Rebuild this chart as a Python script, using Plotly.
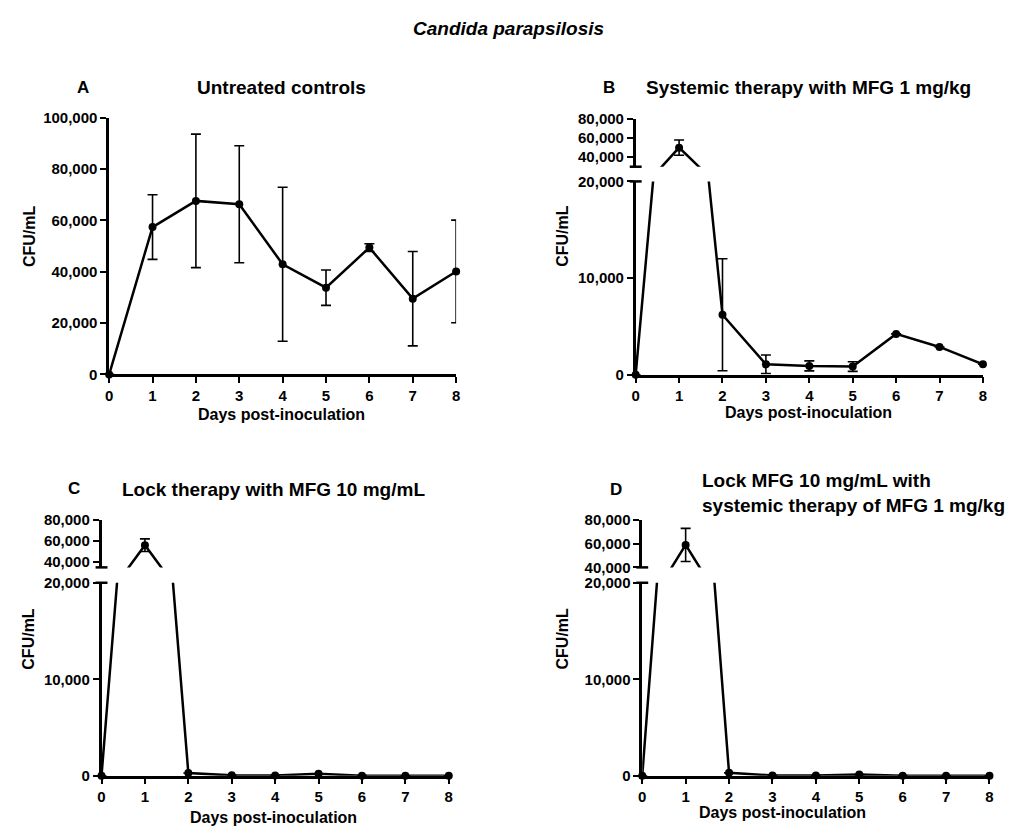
import plotly.graph_objects as go

W, H = 1016, 834

# ---------------- data ----------------
days = [0, 1, 2, 3, 4, 5, 6, 7, 8]

A_mean = [0, 57400, 67600, 66300, 42900, 33800, 49400, 29500, 40100]
A_sd = [0, 12600, 26000, 22800, 30000, 6900, 1500, 18400, 20000]

B_mean = [0, 50000, 6200, 1080, 910, 840, 4220, 2870, 1080]
B_sd = [0, 8000, 5800, 950, 520, 500, 0, 0, 0]

C_mean = [0, 56000, 280, 40, 30, 200, 10, 0, 0]
C_sd = [0, 6000, 0, 0, 0, 0, 0, 0, 0]

D_mean = [0, 59000, 300, 30, 20, 120, 10, 0, 0]
D_sd = [0, 14000, 0, 0, 0, 0, 0, 0, 0]

main_title = "Candida parapsilosis"
panel_letters = ["A", "B", "C", "D"]
panel_titles = [
    "Untreated controls",
    "Systemic therapy with MFG 1 mg/kg",
    "Lock therapy with MFG 10 mg/mL",
    "Lock MFG 10 mg/mL with<br>systemic therapy of MFG 1 mg/kg",
]
x_title = "Days post-inoculation"
y_title = "CFU/mL"

# ---------------- layout helpers ----------------
def fx(p):
    return p / W

def fy(p):
    return 1 - p / H

FONT = "Liberation Sans, Arial, sans-serif"
tickfont = dict(family=FONT, size=15, color="black", weight="bold")

axis_style = dict(
    showline=True, linecolor="black", linewidth=2.5,
    ticks="outside", ticklen=6, tickwidth=2, tickcolor="black",
    showgrid=False, zeroline=False, tickfont=tickfont,
)

# panel geometry in pixels
panels = [
    dict(mean=A_mean, sd=A_sd, xpx=(106, 455.7), xid="x", low=("y", (373, 111), [0, 100000],
         [0, 20000, 40000, 60000, 80000, 100000]), up=None),
    dict(mean=B_mean, sd=B_sd, xpx=(636.7, 986.7), xid="x2",
         low=("y2", (373.3, 176), [0, 20000], [0, 10000, 20000]),
         up=("y3", (161, 112.3), [30000, 80000], [40000, 60000, 80000])),
    dict(mean=C_mean, sd=C_sd, xpx=(98.3, 448.3), xid="x3",
         low=("y4", (782.7, 585.7), [0, 20000], [0, 10000, 20000]),
         up=("y5", (570, 521.5), [35000, 80000], [40000, 60000, 80000])),
    dict(mean=D_mean, sd=D_sd, xpx=(643.3, 993.3), xid="x4",
         low=("y6", (782.7, 585.7), [0, 20000], [0, 10000, 20000]),
         up=("y7", (570, 521.7), [40000, 80000], [40000, 60000, 80000])),
]

fig = go.Figure()
layout = {}
shapes = []

def axname(aid):
    return aid[0] + "axis" + aid[1:]

for p in panels:
    xid = p["xid"]
    lowid, lowpx, lowrange, lowticks = p["low"]
    layout[axname(xid)] = dict(
        domain=[fx(p["xpx"][0]), fx(p["xpx"][1])], range=[0, 8],
        tickvals=days, anchor=lowid, **axis_style)
    segs = [p["low"]] + ([p["up"]] if p["up"] else [])
    for sid, spx, srange, sticks in segs:
        layout[axname(sid)] = dict(
            domain=[fy(spx[0]), fy(spx[1])], range=srange, tickvals=sticks,
            tickformat=",d", anchor=xid, **axis_style)
        # connecting line, clipped to each segment
        fig.add_trace(go.Scatter(
            x=days, y=p["mean"], mode="lines", xaxis=xid, yaxis=sid,
            line=dict(color="black", width=2.5), showlegend=False, hoverinfo="skip"))
        # markers + error bars for points inside this segment
        xs, ys, es = [], [], []
        for d, m, s in zip(days, p["mean"], p["sd"]):
            if srange[0] <= m <= srange[1]:
                xs.append(d); ys.append(m); es.append(s)
        fig.add_trace(go.Scatter(
            x=xs, y=ys, mode="markers", xaxis=xid, yaxis=sid, cliponaxis=False,
            marker=dict(color="black", size=8),
            error_y=dict(type="data", array=es, color="black", thickness=1.6, width=5),
            showlegend=False))
    if p["up"]:
        ax = fx(p["xpx"][0])
        upbot = fy(p["up"][1][0])
        lowtop = fy(p["low"][1][1])
        d6 = 6 / W
        shapes.append(dict(type="line", xref="paper", yref="paper",
                           x0=ax - d6, x1=ax + d6, y0=upbot, y1=upbot,
                           line=dict(color="black", width=2.5)))
        shapes.append(dict(type="line", xref="paper", yref="paper",
                           x0=ax - d6, x1=ax + d6, y0=lowtop, y1=lowtop,
                           line=dict(color="black", width=2.5)))

# ---------------- annotations ----------------
ann = []
def text(x, y, s, size=16, angle=0, italic=False, xanchor="center", align="center"):
    ann.append(dict(x=fx(x), y=fy(y), xref="paper", yref="paper", text=s,
                    showarrow=False, textangle=angle, xanchor=xanchor, yanchor="middle",
                    align=align,
                    font=dict(family=FONT, size=size, color="black", weight="bold",
                              style="italic" if italic else "normal")))

text(508, 20, main_title, size=19, italic=True)
letter_pos = [(80, 80), (610, 80), (71, 489), (617, 490)]
for (lx, ly), L in zip(letter_pos, panel_letters):
    text(lx, ly, L, size=17)
text(280, 80, panel_titles[0], size=19)
text(811, 80, panel_titles[1], size=19)
text(272, 490, panel_titles[2], size=19)
text(702, 494, panel_titles[3], size=19, xanchor="left", align="left")

for (x, y) in [(280, 414), (811, 412), (272, 825), (785, 820)]:
    text(x, y, x_title, size=16)
for (x, y) in [(25, 232), (563, 232), (25, 643), (563, 643)]:
    text(x, y, y_title, size=16, angle=-90)

fig.update_layout(
    width=W, height=H, margin=dict(l=0, r=0, t=0, b=0),
    plot_bgcolor="white", paper_bgcolor="white",
    annotations=ann, shapes=shapes, showlegend=False,
    font=dict(family=FONT, color="black"),
    **layout,
)

fig.write_html("out.html", config={"displayModeBar": False},
               post_script="document.body.style.margin='0';")
